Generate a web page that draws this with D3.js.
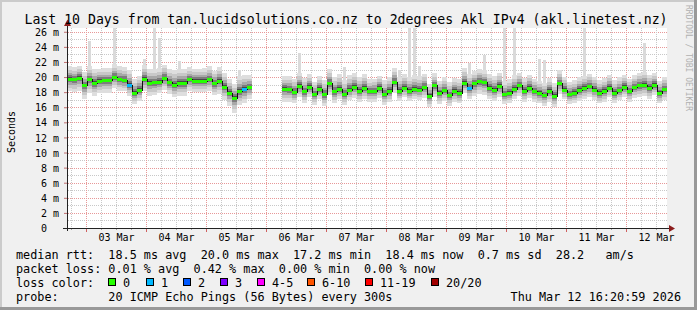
<!DOCTYPE html>
<html lang="en">
<head>
<meta charset="UTF-8">
<title>SmokePing - Last 10 Days</title>
<script src="https://cdnjs.cloudflare.com/ajax/libs/d3/7.8.5/d3.min.js"></script>
<style>
    body { margin: 0; background: #f0f0f0; }
    svg { display: block; font-family: "DejaVu Sans Mono", monospace; }
    text { white-space: pre; }
</style>
</head>
<body>
<div id="chart"></div>
<script>
// ---- data ----
const title = "Last 10 Days from tan.lucidsolutions.co.nz to 2degrees Akl IPv4 (akl.linetest.nz)";
const startTime = new Date(2026, 2, 2, 16, 24);
const endTime = new Date(2026, 2, 12, 16, 24);
const slotHours = 2;   // one median value every 2 hours

// median rtt (ms) per 2-hour slot, null = no data
const median = [
    19.8, 19.7, 19.9, 18.9, 19.7, 19.25, 19.5, 19.55, 19.55, 20.0,
    19.7, 19.6, 19.0, 17.9, 18.3, 19.8, 19.25, 19.3, 19.35, 19.85,
    19.3, 19.0, 19.2, 19.2, 19.7, 19.5, 19.5, 19.5, 19.7, 19.15,
    19.5, 18.7, 17.9, 17.2, 18.2, 18.4, 18.65, null, null, null,
    null, null, null, 18.45, 18.4, 18.0, 18.8, 18.1, 18.7, 17.7,
    18.45, 17.7, 19.15, 18.1, 18.45, 17.7, 18.35, 18.7, 18.15, 18.6,
    18.1, 18.15, 18.6, 17.7, 18.15, 19.3, 18.15, 18.6, 18.15, 18.45,
    18.35, 18.65, 17.5, 18.9, 17.9, 18.25, 17.6, 18.15, 17.9, 19.25,
    18.5, 19.15, 19.45, 19.3, 18.6, 18.35, 18.8, 17.7, 17.9, 18.45,
    18.9, 18.15, 18.6, 18.15, 17.9, 17.6, 18.15, 17.5, 19.2, 18.35,
    17.7, 17.9, 18.35, 18.6, 18.8, 18.35, 17.9, 18.15, 18.6, 17.9,
    18.25, 18.7, 18.15, 18.65, 18.9, 19.0, 18.6, 19.0, 17.9, 18.4
];

// smoke spread above / below the median (ms), one value per 6 hours
const smokeUp = [
    1.6, 1.8, 1.6, 1.7, 1.9, 1.8, 1.8, 1.9, 1.6, 1.7,
    1.8, 1.9, 1.6, null, 1.7, 1.8, 1.7, 1.9, 1.9, 1.8,
    1.6, 1.9, 1.8, 1.8, 1.6, 1.7, 1.9, 1.6, 1.8, 1.8,
    1.7, 1.6, 1.7, 1.7, 1.6, 1.7, 1.7, 1.6, 1.7, 1.6
];
const smokeDown = [
    1.7, 1.8, 1.6, 1.5, 1.5, 1.7, 1.5, 1.7, 1.5, 1.5,
    1.7, 1.9, 1.5, null, 1.7, 1.5, 1.4, 1.5, 1.4, 1.5,
    1.4, 1.4, 1.3, 1.4, 1.5, 1.4, 1.4, 1.7, 1.5, 1.3,
    1.4, 1.4, 1.5, 1.3, 1.5, 1.4, 1.3, 1.4, 1.5, 1.4
];

// tall single-ping outliers: slot index and highest ping (ms)
const spikeSlot = [4, 9, 15, 17, 18, 22, 34, 46, 55, 66, 68, 69, 70, 80, 83, 87, 89, 94, 95, 103, 115];
const spikeTop = [24.8, 26.6, 22.4, 26.6, 25.2, 22.1, 21.0, 23.2, 21.3, 21.0, 26.6, 26.6, 21.5, 21.9, 22.9, 26.6, 26.6, 22.4, 22.2, 26.6, 24.5];

// slots with lost pings
const lossSlot = [12, 35, 80];
const lossPings = [1, 1, 1];

const yTicks = [0, 2, 4, 6, 8, 10, 12, 14, 16, 18, 20, 22, 24, 26];
const xLabels = ["03 Mar", "04 Mar", "05 Mar", "06 Mar", "07 Mar", "08 Mar", "09 Mar", "10 Mar", "11 Mar", "12 Mar"];

const lossLabels = ["0", "1", "2", "3", "4-5", "6-10", "11-19", "20/20"];
const lossColors = ["#26ff00", "#00b8ff", "#0059ff", "#7e00ff", "#ff00ff", "#ff5500", "#ff0000", "#a10000"];

const legendLines = [
    "median rtt:  18.5 ms avg  20.0 ms max  17.2 ms min  18.4 ms now  0.7 ms sd  28.2   am/s",
    "packet loss: 0.01 % avg  0.42 % max  0.00 % min  0.00 % now",
    "loss color:",
    "probe:       20 ICMP Echo Pings (56 Bytes) every 300s"
];
const stamp = "Thu Mar 12 16:20:59 2026";

// ---- layout ----
const width = 697, height = 310;
const plotL = 67, plotR = 667, plotT = 28, plotB = 228;

const x = d3.scaleTime().domain([startTime, endTime]).range([plotL, plotR]);
const y = d3.scaleLinear().domain([0, 26.5]).range([plotB, plotT]);

const svg = d3.select("#chart").append("svg")
    .attr("width", width)
    .attr("height", height);

// background with rrdtool style shading
svg.append("rect").attr("width", width).attr("height", height).attr("fill", "#f0f0f0");
svg.append("rect").attr("width", width).attr("height", 2).attr("fill", "#cbcbcb");
svg.append("rect").attr("width", 2).attr("height", height).attr("fill", "#cbcbcb");
svg.append("rect").attr("y", height - 3).attr("width", width).attr("height", 3).attr("fill", "#999");
svg.append("rect").attr("x", width - 3).attr("width", 3).attr("height", height).attr("fill", "#999");

svg.append("rect")
    .attr("x", plotL).attr("y", plotT)
    .attr("width", plotR - plotL).attr("height", plotB - plotT)
    .attr("fill", "#fff");

svg.append("clipPath").attr("id", "clip")
    .append("rect")
    .attr("x", plotL).attr("y", plotT)
    .attr("width", plotR - plotL).attr("height", plotB - plotT);

// grid
const grid = svg.append("g").attr("shape-rendering", "crispEdges").attr("stroke-dasharray", "1,1");
d3.range(1, 27).forEach(v => {
    const yy = Math.round(y(v)) + 0.5;
    grid.append("line")
        .attr("x1", plotL + 1).attr("x2", plotR)
        .attr("y1", yy).attr("y2", yy)
        .attr("stroke", v % 2 === 0 ? "#e89898" : "#c8c8c8");
});
const sixHours = d3.timeHour.every(6).range(startTime, endTime);
sixHours.forEach(t => {
    const xx = Math.round(x(t)) + 0.5;
    grid.append("line")
        .attr("x1", xx).attr("x2", xx)
        .attr("y1", plotT).attr("y2", plotB)
        .attr("stroke", t.getHours() === 0 ? "#e89898" : "#c8c8c8");
});

// smoke
const slots = median.map((v, i) => {
    const t0 = d3.timeHour.offset(startTime, i * slotHours);
    const j = Math.floor(i / 3);
    return {i, t0, t1: d3.timeHour.offset(t0, slotHours), med: v, up: smokeUp[j], down: smokeDown[j]};
});
const live = slots.filter(d => d.med != null);

const plotG = svg.append("g").attr("clip-path", "url(#clip)").attr("shape-rendering", "crispEdges");

plotG.selectAll(".spike")
    .data(spikeSlot.map((s, k) => ({s: slots[s], top: spikeTop[k]})))
    .enter().append("rect")
    .attr("x", d => Math.round(x(d.s.t0)) + 1)
    .attr("width", 3)
    .attr("y", d => y(d.top))
    .attr("height", d => y(d.s.med) - y(d.top))
    .attr("fill", "#dadada");

const bandFractions = [1, 0.72, 0.48, 0.28, 0.12];
const bandFills = ["#dedede", "#c8c8c8", "#a8a8a8", "#7c7c7c", "#484848"];
bandFractions.forEach((f, b) => {
    plotG.selectAll(".band" + b)
        .data(live)
        .enter().append("rect")
        .attr("x", d => Math.round(x(d.t0)))
        .attr("width", d => Math.round(x(d.t1)) - Math.round(x(d.t0)))
        .attr("y", d => Math.round(y(d.med + d.up * f)))
        .attr("height", d => Math.round(y(d.med - d.down * f)) - Math.round(y(d.med + d.up * f)))
        .attr("fill", bandFills[b]);
});

// median step line
const medPts = slots.map(d => ({t: d.t0, v: d.med}));
medPts.push({t: endTime, v: median[median.length - 1]});
plotG.append("path")
    .datum(medPts)
    .attr("fill", "none")
    .attr("stroke", "#111")
    .attr("stroke-width", 1)
    .attr("d", d3.line()
        .defined(d => d.v != null)
        .x(d => Math.round(x(d.t)) + 0.5)
        .y(d => Math.round(y(d.v)) + 0.5)
        .curve(d3.curveStepAfter));

function lossBucket(n) {
    if (n <= 3) return n;
    if (n <= 5) return 4;
    if (n <= 10) return 5;
    if (n <= 19) return 6;
    return 7;
}
plotG.selectAll(".med")
    .data(live)
    .enter().append("rect")
    .attr("x", d => Math.round(x(d.t0)))
    .attr("width", d => Math.round(x(d.t1)) - Math.round(x(d.t0)))
    .attr("y", d => Math.round(y(d.med)) - 1)
    .attr("height", 3)
    .attr("fill", d => {
        const k = lossSlot.indexOf(d.i);
        return lossColors[k < 0 ? 0 : lossBucket(lossPings[k])];
    });

// axes
const yAxis = svg.append("g")
    .attr("transform", `translate(${plotL},0)`)
    .call(d3.axisLeft(y).tickValues(yTicks).tickSize(3).tickPadding(5)
        .tickFormat(v => v === 0 ? "0" : v + " m"));
yAxis.select(".domain").remove();
yAxis.selectAll("line").attr("stroke", "#c07070");
yAxis.selectAll("text")
    .attr("font-size", 10).attr("font-family", "DejaVu Sans Mono").attr("fill", "#000")
    .attr("dy", "0.36em")
    .attr("dx", v => v === 0 ? -12 : 0);

const parseLabel = d3.timeParse("%d %b %Y %H");
const xAxis = svg.append("g")
    .attr("transform", `translate(0,${plotB})`)
    .call(d3.axisBottom(x)
        .tickValues(xLabels.map(s => parseLabel(s + " 2026 12")))
        .tickFormat(d3.timeFormat("%d %b"))
        .tickSize(0));
xAxis.select(".domain").remove();
xAxis.selectAll("text")
    .attr("font-size", 10).attr("font-family", "DejaVu Sans Mono").attr("fill", "#000")
    .attr("y", 12.7).attr("dy", 0);

const ticks = svg.append("g").attr("shape-rendering", "crispEdges");
sixHours.forEach(t => {
    const xx = Math.round(x(t)) + 0.5;
    const major = t.getHours() === 0;
    ticks.append("line")
        .attr("x1", xx).attr("x2", xx)
        .attr("y1", plotB).attr("y2", plotB + (major ? 4 : 2))
        .attr("stroke", major ? "#d06060" : "#a0a0a0");
});

const axisColor = "#222";
svg.append("line").attr("x1", plotL + 0.5).attr("x2", plotL + 0.5).attr("y1", plotB + 3).attr("y2", 22)
    .attr("stroke", axisColor).attr("shape-rendering", "crispEdges");
svg.append("line").attr("x1", plotL - 4).attr("x2", plotR + 4).attr("y1", plotB + 0.5).attr("y2", plotB + 0.5)
    .attr("stroke", axisColor).attr("shape-rendering", "crispEdges");
svg.append("path").attr("d", `M${plotL - 3},26 L${plotL + 4},26 L${plotL + 0.5},19.5 Z`).attr("fill", "#8b1c1c");
svg.append("path").attr("d", `M${plotR + 2},${plotB - 3} L${plotR + 2},${plotB + 4} L${plotR + 8},${plotB + 0.5} Z`).attr("fill", "#8b1c1c");

// titles
svg.append("text")
    .attr("x", 346).attr("y", 24)
    .attr("text-anchor", "middle")
    .attr("font-size", 13.2)
    .text(title);

svg.append("text")
    .attr("transform", "translate(14.5,132) rotate(-90)")
    .attr("text-anchor", "middle")
    .attr("font-size", 10)
    .text("Seconds");

svg.append("text")
    .attr("transform", "translate(686,5) rotate(90)")
    .attr("font-size", 8)
    .attr("fill", "#b0b0b0")
    .text("RRDTOOL / TOBI OETIKER");

// legend
const legendBase = [258.7, 272.7, 286.5, 300.5];
legendLines.forEach((s, k) => {
    svg.append("text")
        .attr("x", 16).attr("y", legendBase[k])
        .attr("font-size", 11.8)
        .text(s);
});
const swatchX = [108, 146, 183, 220, 257, 307, 365, 431];
lossLabels.forEach((lab, k) => {
    svg.append("rect")
        .attr("x", swatchX[k] + 0.5).attr("y", 278.5)
        .attr("width", 7).attr("height", 7)
        .attr("fill", lossColors[k])
        .attr("stroke", "#000")
        .attr("shape-rendering", "crispEdges");
    svg.append("text")
        .attr("x", swatchX[k] + 15).attr("y", legendBase[2])
        .attr("font-size", 11.8)
        .text(lab);
});
svg.append("text")
    .attr("x", 681).attr("y", legendBase[3])
    .attr("text-anchor", "end")
    .attr("font-size", 11.8)
    .text(stamp);
</script>
</body>
</html>
